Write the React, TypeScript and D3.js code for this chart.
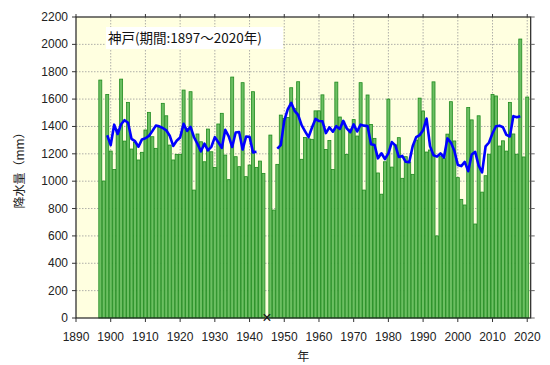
import React from "react";
import * as d3 from "d3";

// Annual precipitation at Kobe (mm), 1897–2020; 1945 missing
const firstYear = 1897;
const precip: (number | null)[] = [
  // 1897-1899
  1739, 1001, 1634,
  // 1900s
  1220, 1086, 1379, 1746, 1293, 1576, 1235, 1284, 1155, 1211,
  // 1910s
  1374, 1503, 1325, 1240, 1393, 1569, 1478, 1264, 1155, 1196,
  // 1920s
  1196, 1666, 1384, 1654, 935, 1345, 1288, 1142, 1381, 1215,
  // 1930s
  1101, 1418, 1496, 1191, 1011, 1761, 1179, 1106, 1720, 1033,
  // 1940s
  1118, 1654, 1101, 1147, 1057, null, 1337, 789, 1123, 1483,
  // 1950s
  1459, 1466, 1683, 1530, 1727, 1160, 1320, 1310, 1306, 1514,
  // 1960s
  1514, 1631, 1232, 1297, 1085, 1724, 1469, 1435, 1196, 1380,
  // 1970s
  1450, 1330, 1720, 935, 1630, 1415, 1313, 1060, 905, 1142,
  // 1980s
  1600, 1103, 1265, 1318, 1021, 1179, 1140, 1050, 1300, 1607,
  // 1990s
  1513, 1213, 1228, 1726, 600, 1179, 1165, 1344, 1581, 1294,
  // 2000s
  1026, 867, 826, 1538, 1448, 687, 1478, 920, 1040, 1197,
  // 2010s
  1634, 1623, 1257, 1295, 1220, 1576, 1345, 1197, 2039, 1177,
  // 2020
  1615,
];
const missingYears = [1945];
const xTicks = [1890, 1900, 1910, 1920, 1930, 1940, 1950, 1960, 1970, 1980, 1990, 2000, 2010, 2020];
const yTicks = [0, 200, 400, 600, 800, 1000, 1200, 1400, 1600, 1800, 2000, 2200];
const titleText = "神戸(期間:1897～2020年)";
const xLabel = "年";
const yLabel = "降水量（mm）";

const W = 550;
const H = 365;
const L = 76;
const R = 530.7;
const T = 17;
const B = 318;

export default function App() {
  const x = d3.scaleLinear().domain([1890, 2021]).range([L, R]);
  const y = d3.scaleLinear().domain([0, 2200]).range([B, T]);
  const data = precip.map((v, i) => ({ year: firstYear + i, value: v }));

  // centered 5-year moving average
  const ma = data.map((d, i) => {
    if (i < 2 || i > data.length - 3) return { year: d.year, value: null as number | null };
    const win = data.slice(i - 2, i + 3);
    if (win.some((w) => w.value == null)) return { year: d.year, value: null as number | null };
    return { year: d.year, value: d3.mean(win, (w) => w.value as number) as number };
  });
  const line = d3
    .line<{ year: number; value: number | null }>()
    .defined((d) => d.value != null)
    .x((d) => x(d.year))
    .y((d) => y(d.value as number));

  const step = x(1) - x(0);
  const bw = step * 0.86;
  const font = "'Liberation Sans', Arial, sans-serif";
  const cjk = "'Noto Sans CJK JP', 'Noto Sans', sans-serif";

  return (
    <svg width={W} height={H} style={{ position: "absolute", left: 0, top: 0 }}>
      <rect x={0} y={0} width={W} height={H} fill="#ffffff" />
      <rect x={L} y={T} width={R - L} height={B - T} fill="#ffffe0" />
      {/* grid */}
      {yTicks.slice(1, -1).map((t) => (
        <line key={"gy" + t} x1={L} x2={R} y1={y(t)} y2={y(t)} stroke="#9a9a9a" strokeWidth={0.8} strokeDasharray="1.5,1.5" />
      ))}
      {xTicks.slice(1).map((t) => (
        <line key={"gx" + t} x1={x(t)} x2={x(t)} y1={T} y2={B} stroke="#9a9a9a" strokeWidth={0.8} strokeDasharray="1.5,1.5" />
      ))}
      {/* bars */}
      {data
        .filter((d) => d.value != null)
        .map((d) => (
          <rect
            key={"b" + d.year}
            x={x(d.year) - bw / 2}
            y={y(d.value as number)}
            width={bw}
            height={B - y(d.value as number)}
            fill="#6cbf62"
            stroke="#1f8a1f"
            strokeWidth={0.8}
          />
        ))}
      {/* moving average */}
      <path d={line(ma) || ""} fill="none" stroke="#0000ff" strokeWidth={2.6} strokeLinejoin="round" />
      {/* title box */}
      <rect x={106} y={27} width={177} height={22} fill="#ffffff" />
      <text x={108} y={43} fontFamily={cjk} fontSize={13.5} fill="#111">
        {titleText}
      </text>
      {/* frame */}
      <rect x={L} y={T} width={R - L} height={B - T} fill="none" stroke="#222" strokeWidth={1.2} />
      {/* y ticks */}
      {yTicks.map((t) => (
        <g key={"yt" + t}>
          <line x1={L - 4} x2={L} y1={y(t)} y2={y(t)} stroke="#333" strokeWidth={1} />
          <line x1={R} x2={R + 4} y1={y(t)} y2={y(t)} stroke="#666" strokeWidth={1} />
          <text x={L - 8} y={y(t) + 4} textAnchor="end" fontFamily={font} fontSize={12} fill="#222">
            {t}
          </text>
        </g>
      ))}
      {/* x ticks */}
      {xTicks.map((t) => (
        <g key={"xt" + t}>
          <line x1={x(t)} x2={x(t)} y1={B} y2={B + 4} stroke="#333" strokeWidth={1} />
          <line x1={x(t)} x2={x(t)} y1={T - 3} y2={T} stroke="#333" strokeWidth={1} />
          <text x={x(t)} y={B + 23} textAnchor="middle" fontFamily={font} fontSize={12} fill="#222">
            {t}
          </text>
        </g>
      ))}
      {/* missing marks */}
      {missingYears.map((yr) => (
        <text key={"m" + yr} x={x(yr)} y={B + 5} textAnchor="middle" fontFamily={font} fontSize={16} fill="#111">
          ×
        </text>
      ))}
      <text x={(L + R) / 2} y={361} textAnchor="middle" fontFamily={cjk} fontSize={12} fill="#222">
        {xLabel}
      </text>
      <text
        transform={`translate(24, ${(T + B) / 2}) rotate(-90)`}
        textAnchor="middle"
        fontFamily={cjk}
        fontSize={12}
        fill="#222"
      >
        {yLabel}
      </text>
    </svg>
  );
}
